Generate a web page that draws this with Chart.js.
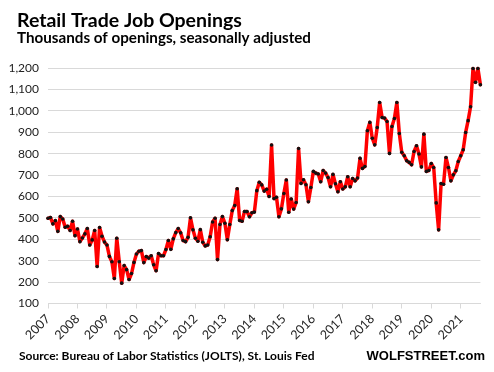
<!DOCTYPE html>
<html>
<head>
<meta charset="utf-8">
<script src="https://cdn.jsdelivr.net/npm/chart.js@4/dist/chart.umd.min.js"></script>
<style>
  html, body { margin: 0; padding: 0; background: #fff; }
  #wrap { width: 494px; height: 372px; position: relative; }
</style>
</head>
<body>
<div id="wrap"><canvas id="chart"></canvas></div>
<script>
// Retail trade job openings, thousands, monthly (Jan 2007 - Sep 2021)
const yearLabels = ['2007', '2008', '2009', '2010', '2011', '2012', '2013', '2014',
                    '2015', '2016', '2017', '2018', '2019', '2020', '2021'];

const jobs2007 = [498, 502, 472, 487, 437, 506, 495, 456, 461, 441, 484, 417];
const jobs2008 = [448, 389, 406, 425, 450, 373, 397, 441, 273, 455, 414, 387];
const jobs2009 = [373, 320, 295, 217, 405, 295, 195, 277, 258, 212, 240, 292];
const jobs2010 = [331, 344, 347, 291, 319, 312, 323, 281, 253, 333, 323, 323];
const jobs2011 = [352, 394, 353, 402, 431, 450, 430, 394, 389, 409, 500, 444];
const jobs2012 = [405, 391, 445, 386, 369, 373, 412, 481, 498, 305, 469, 506];
const jobs2013 = [475, 398, 469, 534, 558, 636, 488, 484, 530, 530, 505, 524];
const jobs2014 = [527, 627, 666, 654, 625, 634, 600, 840, 590, 596, 505, 542];
const jobs2015 = [614, 677, 526, 588, 541, 572, 824, 661, 678, 655, 575, 642];
const jobs2016 = [717, 709, 705, 669, 721, 709, 688, 645, 703, 659, 622, 669];
const jobs2017 = [635, 645, 692, 645, 684, 673, 686, 778, 731, 740, 907, 946];
const jobs2018 = [872, 841, 922, 1039, 969, 966, 950, 801, 927, 964, 1039, 894];
const jobs2019 = [806, 790, 767, 759, 748, 810, 837, 798, 738, 891, 717, 721];
const jobs2020 = [754, 735, 570, 444, 660, 657, 782, 735, 673, 701, 720, 763];
const jobs2021 = [790, 818, 899, 954, 1019, 1198, 1133, 1198, 1122];

const yMin = 100;
const yMax = 1200;
const yStep = 100;

const titleText = 'Retail Trade Job Openings';
const subtitleText = 'Thousands of openings, seasonally adjusted';
const sourceText = 'Source: Bureau of Labor Statistics (JOLTS), St. Louis Fed';
const brandText = 'WOLFSTREET.com';

// Build the monthly series and labels
const byYear = [jobs2007, jobs2008, jobs2009, jobs2010, jobs2011, jobs2012, jobs2013, jobs2014,
                jobs2015, jobs2016, jobs2017, jobs2018, jobs2019, jobs2020, jobs2021];
const values = [];
const labels = [];
byYear.forEach((arr, i) => {
    arr.forEach((v, m) => {
        values.push(v);
        labels.push(yearLabels[i] + '-' + (m + 1));
    });
});

// Title, subtitle and footer text
const textPlugin = {
    id: 'headerFooter',
    afterDraw(chart) {
        const ctx = chart.ctx;
        ctx.save();
        ctx.fillStyle = '#000';
        ctx.textBaseline = 'alphabetic';
        ctx.textAlign = 'left';
        ctx.font = 'bold 19.5px Lato';
        ctx.fillText(titleText, 17, 27);
        ctx.font = 'bold 15.2px Lato';
        ctx.fillText(subtitleText, 17, 43);
        ctx.font = 'bold 12px Lato';
        ctx.fillText(sourceText, 19, 360);
        ctx.font = 'bold 13px "Liberation Sans"';
        ctx.textAlign = 'right';
        ctx.fillText(brandText, 485, 360);
        ctx.restore();
    }
};

const ctx = document.getElementById('chart').getContext('2d');
new Chart(ctx, {
    type: 'line',
    data: {
        labels: labels,
        datasets: [{
            data: values,
            borderColor: '#ff0000',
            borderWidth: 3.5,
            borderJoinStyle: 'round',
            borderCapStyle: 'round',
            tension: 0,
            pointRadius: 1.8,
            pointBackgroundColor: '#111',
            pointBorderWidth: 0,
            clip: false
        }]
    },
    options: {
        responsive: true,
        maintainAspectRatio: false,
        animation: false,
        layout: { padding: { top: 68, left: 0, right: 10, bottom: 30 } },
        plugins: {
            legend: { display: false },
            tooltip: { enabled: false }
        },
        scales: {
            x: {
                type: 'category',
                afterFit: scale => { scale.height = 38.5; },
                border: { color: '#d9d9d9' },
                grid: {
                    drawOnChartArea: false,
                    tickLength: 5,
                    color: c => (c.index % 12 === 0 ? '#d9d9d9' : 'rgba(0,0,0,0)')
                },
                ticks: {
                    autoSkip: false,
                    minRotation: 45,
                    maxRotation: 45,
                    padding: 3,
                    color: '#222',
                    font: { family: 'Lato', size: 12.5 },
                    callback: function (val, i) {
                        return i % 12 === 0 ? this.getLabelForValue(val).slice(0, 4) : '';
                    }
                }
            },
            y: {
                min: yMin,
                max: yMax,
                afterFit: scale => { scale.width = 48; },
                border: { display: false },
                grid: { color: '#d9d9d9', drawTicks: false },
                ticks: {
                    stepSize: yStep,
                    padding: 9,
                    color: '#222',
                    font: { family: 'Lato', size: 12 },
                    callback: v => v.toLocaleString('en-US')
                }
            }
        }
    },
    plugins: [textPlugin]
});
</script>
</body>
</html>
